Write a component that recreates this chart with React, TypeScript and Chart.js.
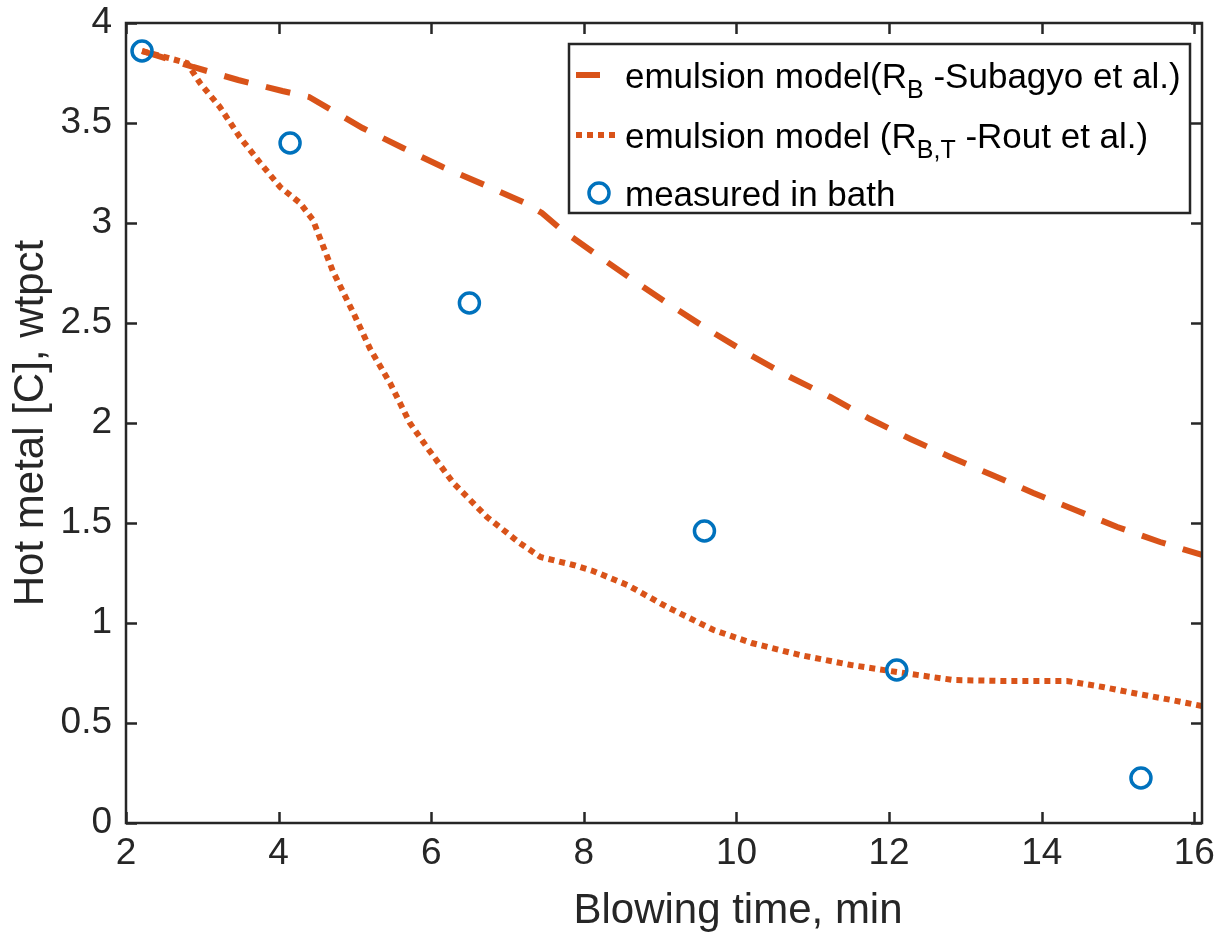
import React, { useEffect, useRef } from "react";
import { Chart, registerables } from "chart.js";

Chart.register(...registerables);

// ---- data ----
const subagyoX = [2.21, 2.88, 3.47, 4.05, 4.4, 5.1, 5.63, 6.15, 6.7, 7.23, 7.45, 7.71, 8.21, 8.7, 9.17, 9.68, 10.18, 10.7, 11.23, 11.75, 12.28, 12.8, 13.35, 13.89, 14.44, 14.99, 15.55, 16.1];
const subagyoY = [3.86, 3.78, 3.715, 3.66, 3.63, 3.475, 3.375, 3.28, 3.19, 3.1, 3.05, 2.965, 2.83, 2.7, 2.58, 2.455, 2.34, 2.23, 2.13, 2.02, 1.92, 1.83, 1.74, 1.65, 1.565, 1.48, 1.405, 1.34];

const routX = [2.21, 2.8, 2.97, 3.23, 3.49, 3.76, 4.02, 4.28, 4.45, 4.71, 4.98, 5.2, 5.46, 5.72, 5.96, 6.29, 6.73, 7.16, 7.43, 7.86, 8.12, 8.57, 9.09, 9.7, 10.2, 10.83, 11.5, 12.1, 12.84, 13.5, 14.33, 14.8, 15.2, 15.7, 16.1];
const routY = [3.86, 3.8, 3.7, 3.58, 3.43, 3.3, 3.18, 3.1, 3.015, 2.76, 2.55, 2.37, 2.2, 2.0, 1.87, 1.7, 1.53, 1.4, 1.33, 1.29, 1.26, 1.19, 1.08, 0.965, 0.9, 0.84, 0.79, 0.755, 0.715, 0.71, 0.71, 0.68, 0.65, 0.615, 0.585];

const measuredX = [2.21, 4.15, 6.5, 9.58, 12.1, 15.3];
const measuredY = [3.86, 3.4, 2.6, 1.46, 0.765, 0.225];

const xTicks = [2, 4, 6, 8, 10, 12, 14, 16];
const yTicks = [0, 0.5, 1, 1.5, 2, 2.5, 3, 3.5, 4];

const xTitle = "Blowing time, min";
const yTitle = "Hot metal [C], wtpct";

// legend entries: [main, subscript, rest]
const legendRows = [
  ["emulsion model(R", "B", " -Subagyo et al.)"],
  ["emulsion model (R", "B,T", " -Rout et al.)"],
  ["measured in bath", "", ""],
];

const ORANGE = "#D95319";
const BLUE = "#0072BD";
const AXIS = "#262626";
const FONT = '"Liberation Sans", Arial, Helvetica, sans-serif';

const toPts = (xs: number[], ys: number[]) => xs.map((x, i) => ({ x, y: ys[i] }));

const framePlugin = {
  id: "frame",
  afterDraw(chart: any) {
    const { ctx, chartArea: a, scales } = chart;
    const xs = scales.x;
    const ys = scales.y;
    ctx.save();
    // box
    ctx.strokeStyle = AXIS;
    ctx.lineWidth = 2.5;
    ctx.strokeRect(a.left, a.top, a.right - a.left, a.bottom - a.top);
    // inward ticks
    const tl = 11;
    ctx.beginPath();
    xTicks.forEach((v) => {
      const px = Math.round(xs.getPixelForValue(v)) + 0.5;
      ctx.moveTo(px, a.bottom);
      ctx.lineTo(px, a.bottom - tl);
      ctx.moveTo(px, a.top);
      ctx.lineTo(px, a.top + tl);
    });
    yTicks.forEach((v) => {
      const py = Math.round(ys.getPixelForValue(v)) + 0.5;
      ctx.moveTo(a.left, py);
      ctx.lineTo(a.left + tl, py);
      ctx.moveTo(a.right, py);
      ctx.lineTo(a.right - tl, py);
    });
    ctx.lineWidth = 2.5;
    ctx.stroke();

    // axis titles
    ctx.fillStyle = AXIS;
    ctx.font = `42px ${FONT}`;
    ctx.textAlign = "center";
    ctx.textBaseline = "alphabetic";
    ctx.fillText(xTitle, 738, 923);
    ctx.save();
    ctx.translate(43, (a.top + a.bottom) / 2);
    ctx.rotate(-Math.PI / 2);
    ctx.fillText(yTitle, 0, 0);
    ctx.restore();

    // legend
    const L = 569, T = 44, R = 1190, B = 213;
    ctx.fillStyle = "#ffffff";
    ctx.fillRect(L, T, R - L, B - T);
    ctx.strokeStyle = AXIS;
    ctx.lineWidth = 2.5;
    ctx.strokeRect(L, T, R - L, B - T);

    const rowY = [75, 135, 193];
    // sample: dashed
    ctx.strokeStyle = ORANGE;
    ctx.lineWidth = 6;
    ctx.lineCap = "butt";
    ctx.setLineDash([]);
    ctx.beginPath();
    ctx.moveTo(576, rowY[0]);
    ctx.lineTo(600, rowY[0]);
    ctx.stroke();
    // sample: dotted
    ctx.setLineDash([6, 5]);
    ctx.beginPath();
    ctx.moveTo(576, rowY[1]);
    ctx.lineTo(617, rowY[1]);
    ctx.stroke();
    ctx.setLineDash([]);
    // sample: circle
    ctx.strokeStyle = BLUE;
    ctx.lineWidth = 3.5;
    ctx.beginPath();
    ctx.arc(599, rowY[2], 10, 0, Math.PI * 2);
    ctx.stroke();

    ctx.fillStyle = "#000000";
    ctx.textAlign = "left";
    ctx.textBaseline = "alphabetic";
    legendRows.forEach((row, i) => {
      const base = rowY[i] + 13;
      let x = 625;
      ctx.font = `35px ${FONT}`;
      ctx.fillText(row[0], x, base);
      x += ctx.measureText(row[0]).width;
      if (row[1]) {
        ctx.font = `25px ${FONT}`;
        ctx.fillText(row[1], x, base + 10);
        x += ctx.measureText(row[1]).width;
      }
      if (row[2]) {
        ctx.font = `35px ${FONT}`;
        ctx.fillText(row[2], x, base);
      }
    });
    ctx.restore();
  },
};

export default function App() {
  const ref = useRef<HTMLCanvasElement | null>(null);
  useEffect(() => {
    if (!ref.current) return;
    const chart = new Chart(ref.current, {
      type: "scatter",
      data: {
        datasets: [
          {
            label: "measured in bath",
            data: toPts(measuredX, measuredY),
            showLine: false,
            pointRadius: 10,
            pointBorderWidth: 3.5,
            pointBorderColor: BLUE,
            pointBackgroundColor: "rgba(0,0,0,0)",
            order: 0,
          },
          {
            label: "emulsion model (RB,T -Rout et al.)",
            data: toPts(routX, routY),
            showLine: true,
            borderColor: ORANGE,
            borderWidth: 6,
            borderDash: [6, 5],
            borderCapStyle: "butt",
            pointRadius: 0,
            tension: 0,
            order: 1,
          },
          {
            label: "emulsion model(RB -Subagyo et al.)",
            data: toPts(subagyoX, subagyoY),
            showLine: true,
            borderColor: ORANGE,
            borderWidth: 6,
            borderDash: [25, 18],
            borderCapStyle: "butt",
            pointRadius: 0,
            tension: 0,
            order: 2,
          },
        ],
      },
      options: {
        responsive: false,
        animation: false,
        layout: { padding: { top: 23, right: 26, left: 0, bottom: 0 } },
        plugins: { legend: { display: false }, tooltip: { enabled: false } },
        scales: {
          x: {
            type: "linear",
            min: 2,
            max: 16.1,
            grid: { display: false, drawTicks: false },
            border: { display: false },
            afterBuildTicks: (s: any) => {
              s.ticks = xTicks.map((v) => ({ value: v }));
            },
            afterFit: (s: any) => {
              s.height = 111;
              s.paddingLeft = 0;
              s.paddingRight = 0;
            },
            ticks: {
              padding: 9,
              color: AXIS,
              font: { family: FONT, size: 37 },
              maxRotation: 0,
              autoSkip: false,
              callback: (v: any) => String(v),
            },
          },
          y: {
            type: "linear",
            min: 0,
            max: 4,
            grid: { display: false, drawTicks: false },
            border: { display: false },
            afterBuildTicks: (s: any) => {
              s.ticks = yTicks.map((v) => ({ value: v }));
            },
            afterFit: (s: any) => {
              s.width = 126;
              s.paddingTop = 0;
              s.paddingBottom = 0;
            },
            ticks: {
              padding: 14,
              color: AXIS,
              font: { family: FONT, size: 37 },
              autoSkip: false,
              callback: (v: any) => String(v),
            },
          },
        },
      },
      plugins: [framePlugin],
    } as any);
    return () => chart.destroy();
  }, []);
  return (
    <div style={{ position: "fixed", left: 0, top: 0, width: 1228, height: 934, background: "#fff" }}>
      <canvas ref={ref} width={1228} height={934} style={{ display: "block" }} />
    </div>
  );
}
